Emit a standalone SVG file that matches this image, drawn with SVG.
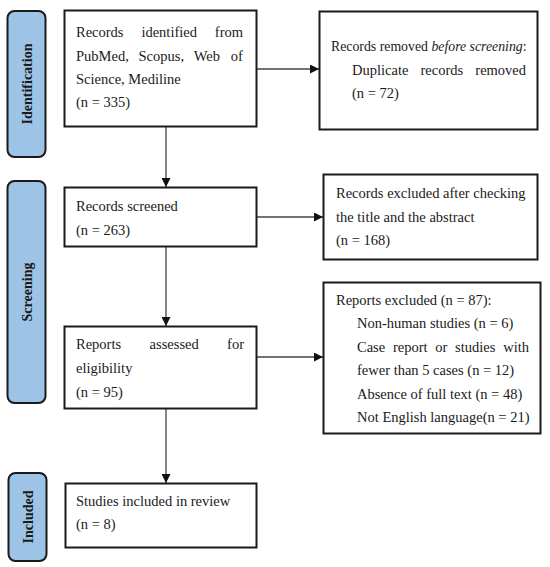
<svg xmlns="http://www.w3.org/2000/svg" width="550" height="567" viewBox="0 0 550 567">
<style>
.box{fill:#fff;stroke:#1a1a1a;stroke-width:2}
.side{fill:#9dc3e6;stroke:#1a1a1a;stroke-width:2}
.t{font-family:"Liberation Serif","Times New Roman",serif;font-size:14.5px;fill:#1a1a1a}
.t.sm{font-size:13.8px}
.s{font-family:"Liberation Serif","Times New Roman",serif;font-size:14px;font-weight:bold;fill:#1a1a1a}
.c{stroke:#444;stroke-width:1.3;fill:none;marker-end:url(#ah)}
</style>
<defs>
<marker id="ah" viewBox="0 0 10 10" refX="10" refY="5" markerWidth="9" markerHeight="9" markerUnits="userSpaceOnUse" orient="auto">
<path d="M0,0 L10,5 L0,10 z" fill="#111"/>
</marker>
</defs>
<rect width="550" height="567" fill="#fff"/>

<g id="phase-identification">
<rect class="side" x="7.5" y="11" width="38" height="146" rx="7"/>
<text class="s" transform="translate(32,84) rotate(-90)" text-anchor="middle">Identification</text>
</g>
<g id="phase-screening">
<rect class="side" x="7.5" y="181" width="38" height="222" rx="7"/>
<text class="s" transform="translate(32,292) rotate(-90)" text-anchor="middle">Screening</text>
</g>
<g id="phase-included">
<rect class="side" x="8.5" y="473" width="38" height="88" rx="7"/>
<text class="s" transform="translate(33,517) rotate(-90)" text-anchor="middle">Included</text>
</g>

<g id="connectors">
<line class="c" x1="256" y1="69" x2="319" y2="69"/>
<line class="c" x1="166" y1="126" x2="166" y2="187"/>
<line class="c" x1="257" y1="217" x2="323" y2="217"/>
<line class="c" x1="166" y1="247" x2="166" y2="326"/>
<line class="c" x1="257" y1="357" x2="323" y2="357"/>
<line class="c" x1="166" y1="409" x2="166" y2="483"/>
</g>

<g id="records-identified">
<rect class="box" x="64.5" y="10.5" width="192" height="116"/>
<text class="t"><tspan x="76" y="37">Records</tspan><tspan x="141.4" y="37">identified</tspan><tspan x="214.8" y="37">from</tspan></text>
<text class="t"><tspan x="76" y="61">PubMed,</tspan><tspan x="138.5" y="61">Scopus,</tspan><tspan x="193.7" y="61">Web</tspan><tspan x="230.8" y="61">of</tspan></text>
<text class="t" x="76" y="84">Science, Mediline</text>
<text class="t" x="76" y="107">(n = 335)</text>
</g>

<g id="records-removed">
<rect class="box" x="319.5" y="11.5" width="218" height="118"/>
<text class="t sm" x="331" y="51">Records removed <tspan font-style="italic">before screening</tspan>:</text>
<text class="t"><tspan x="352" y="75">Duplicate</tspan><tspan x="420.5" y="75">records</tspan><tspan x="475.3" y="75">removed</tspan></text>
<text class="t" x="352" y="98">(n = 72)</text>
</g>

<g id="records-screened">
<rect class="box" x="64.5" y="187.5" width="192" height="59"/>
<text class="t" x="76" y="211">Records screened</text>
<text class="t" x="76" y="235">(n = 263)</text>
</g>

<g id="records-excluded">
<rect class="box" x="323.5" y="174.5" width="214" height="85"/>
<text class="t" x="336" y="198">Records excluded after checking</text>
<text class="t" x="336" y="222">the title and the abstract</text>
<text class="t" x="336" y="245">(n = 168)</text>
</g>

<g id="reports-assessed">
<rect class="box" x="64.5" y="326.5" width="192" height="82"/>
<text class="t"><tspan x="76" y="349">Reports</tspan><tspan x="149.6" y="349">assessed</tspan><tspan x="227.1" y="349">for</tspan></text>
<text class="t" x="76" y="373">eligibility</text>
<text class="t" x="76" y="397">(n = 95)</text>
</g>

<g id="reports-excluded">
<rect class="box" x="323.5" y="282.5" width="217" height="151"/>
<text class="t" x="336" y="305">Reports excluded (n = 87):</text>
<text class="t" x="357" y="328">Non-human studies (n = 6)</text>
<text class="t"><tspan x="357" y="352">Case</tspan><tspan x="392.9" y="352">report</tspan><tspan x="435.3" y="352">or</tspan><tspan x="455.1" y="352">studies</tspan><tspan x="503.2" y="352">with</tspan></text>
<text class="t" x="357" y="375">fewer than 5 cases (n = 12)</text>
<text class="t" x="357" y="399">Absence of full text (n = 48)</text>
<text class="t" x="357" y="422">Not English language(n = 21)</text>
</g>

<g id="studies-included">
<rect class="box" x="65.5" y="483.5" width="191" height="64"/>
<text class="t" x="76" y="506">Studies included in review</text>
<text class="t" x="76" y="529">(n = 8)</text>
</g>
</svg>
